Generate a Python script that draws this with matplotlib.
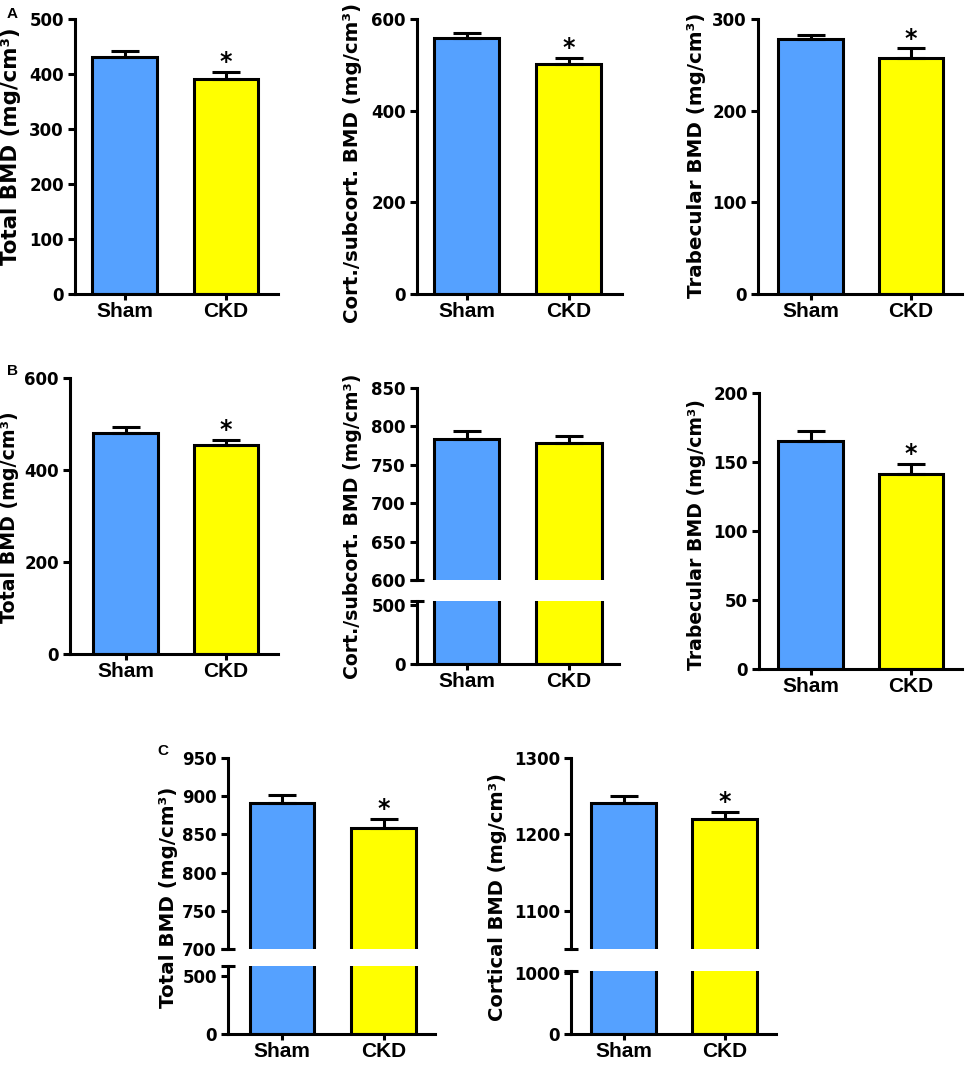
import matplotlib
matplotlib.use('Agg')
import matplotlib.pyplot as plt

# ---------------- data ----------------
categories = ['Sham', 'CKD']

A_total_mean = [431, 391]
A_total_err = [10, 13]
A_cort_mean = [559, 501]
A_cort_err = [10, 15]
A_trab_mean = [278, 258]
A_trab_err = [5, 10]

B_total_mean = [480, 454]
B_total_err = [13, 11]
B_cort_mean = [784, 779]
B_cort_err = [10, 8.5]
B_trab_mean = [165, 141.5]
B_trab_err = [7.5, 7]

C_total_mean = [891, 859]
C_total_err = [10, 11]
C_cort_mean = [1241, 1220]
C_cort_err = [9, 9]

sig_default = [False, True]
sig_none = [False, False]

lab_total = 'Total BMD (mg/cm³)'
lab_cort = 'Cort./subcort. BMD (mg/cm³)'
lab_trab = 'Trabecular BMD (mg/cm³)'
lab_cortical = 'Cortical BMD (mg/cm³)'

# ---------------- style ----------------
W, H = 965, 1065
fig = plt.figure(figsize=(W / 100, H / 100), dpi=100)

BLUE = '#55A1FF'
YELLOW = '#FFFF00'
LW = 2.2
YFONT = 'DejaVu Sans'
XFONT = 'Liberation Sans'
BAR_W = 0.64


def px_ax(l, r, t, b):
    return fig.add_axes([l / W, 1 - b / H, (r - l) / W, (b - t) / H])


def base_style(ax, show_x=True):
    ax.set_facecolor('none')
    for s in ['top', 'right']:
        ax.spines[s].set_visible(False)
    ax.spines['left'].set_linewidth(LW)
    ax.spines['bottom'].set_linewidth(LW)
    ax.tick_params(axis='y', length=5, width=LW, pad=3, colors='black')
    ax.tick_params(axis='x', length=4.5, width=LW, pad=1.5)
    if show_x:
        ax.set_xticks(range(len(categories)))
        ax.set_xticklabels(categories, fontfamily=XFONT, fontweight='bold', fontsize=15)
    else:
        ax.spines['bottom'].set_visible(False)
        ax.tick_params(axis='x', bottom=False, labelbottom=False)


def set_yt(ax, ticks):
    ax.set_yticks(ticks)
    ax.set_yticklabels([str(t) for t in ticks], fontfamily=YFONT, fontweight='bold', fontsize=12)


def draw_bars(ax, means, errs):
    x = list(range(len(means)))
    ax.bar(x, means, width=BAR_W, color=[BLUE, YELLOW], edgecolor='black',
           linewidth=LW, zorder=2)
    ax.errorbar(x, means, yerr=[[0] * len(errs), errs], fmt='none', ecolor='black',
                elinewidth=LW, capsize=10.4, capthick=LW, zorder=3)


def stars(ax, means, errs, sig):
    for i, (m, e, s) in enumerate(zip(means, errs, sig)):
        if s:
            ax.annotate('*', xy=(i, m + e), xytext=(0, 2), textcoords='offset points',
                        ha='center', va='baseline', fontsize=17, fontweight='bold',
                        fontfamily=YFONT, annotation_clip=False)


def xlim_from(spine, right, c0, c1):
    s = c1 - c0
    return (-(c0 - spine) / s, 1 + (right - c1) / s)


def ylabel(ax, text, cx, cy, fs):
    ax.set_ylabel(text, fontfamily=YFONT, fontweight='bold', fontsize=fs)
    ax.yaxis.set_label_coords(cx / W, 1 - cy / H, transform=fig.transFigure)
    lab = ax.yaxis.label
    lab.set_va('center')
    lab.set_ha('center')
    lab.set_rotation_mode('default')


def break_mark(ax, y, width_px):
    d = 7 / width_px
    ax.plot([-d, d], [y, y], transform=ax.transAxes, color='black', lw=LW,
            clip_on=False, solid_capstyle='butt')


def simple_panel(l, r, t, b, c0, c1, means, errs, ylim, ticks, label, lx, ly, fs, sig):
    ax = px_ax(l, r, t, b)
    draw_bars(ax, means, errs)
    ax.set_xlim(xlim_from(l, r, c0, c1))
    ax.set_ylim(ylim)
    base_style(ax)
    set_yt(ax, ticks)
    stars(ax, means, errs, sig)
    ylabel(ax, label, lx, ly, fs)
    return ax


def broken_panel(l, r, t_top, b_top, t_bot, b_bot, c0, c1, means, errs,
                 ylim_top, ticks_top, ylim_bot, ticks_bot, label, lx, ly, fs, sig):
    xl = xlim_from(l, r, c0, c1)
    axt = px_ax(l, r, t_top, b_top)
    draw_bars(axt, means, errs)
    axt.set_xlim(xl)
    axt.set_ylim(ylim_top)
    base_style(axt, show_x=False)
    set_yt(axt, ticks_top)
    stars(axt, means, errs, sig)

    axb = px_ax(l, r, t_bot, b_bot)
    draw_bars(axb, means, errs)
    axb.set_xlim(xl)
    axb.set_ylim(ylim_bot)
    base_style(axb)
    set_yt(axb, ticks_bot)

    break_mark(axt, 0, r - l)
    break_mark(axb, 1, r - l)
    ylabel(axb, label, lx, ly, fs)
    return axt, axb


# ---------------- row A ----------------
simple_panel(75, 278, 19, 294, 124.5, 226, A_total_mean, A_total_err,
             (0, 500), [0, 100, 200, 300, 400, 500], lab_total, 11, 146, 15.4, sig_default)
simple_panel(417, 622, 19, 294, 466.5, 568.5, A_cort_mean, A_cort_err,
             (0, 600), [0, 200, 400, 600], lab_cort, 352, 163, 14.2, sig_default)
simple_panel(758, 962, 19, 294, 810.5, 911, A_trab_mean, A_trab_err,
             (0, 300), [0, 100, 200, 300], lab_trab, 697, 155, 14.3, sig_default)

# ---------------- row B ----------------
simple_panel(70, 278, 378, 654, 125.5, 226, B_total_mean, B_total_err,
             (0, 600), [0, 200, 400, 600], lab_total, 10, 517, 13.7, sig_default)
broken_panel(417, 619, 388, 580, 601, 664, 466.5, 569, B_cort_mean, B_cort_err,
             (600, 850), [600, 650, 700, 750, 800, 850], (0, 534), [0, 500],
             lab_cort, 352, 526, 13.6, sig_none)
simple_panel(759, 962, 393, 669, 810.5, 911, B_trab_mean, B_trab_err,
             (0, 200), [0, 50, 100, 150, 200], lab_trab, 697, 535, 13.6, sig_default)

# ---------------- row C ----------------
broken_panel(228, 435, 758, 949, 966, 1034, 282, 383.5, C_total_mean, C_total_err,
             (700, 950), [700, 750, 800, 850, 900, 950], (0, 586), [0, 500],
             lab_total, 168, 897, 14.3, sig_default)
broken_panel(571, 776, 758, 949, 971, 1034, 623.5, 724.5, C_cort_mean, C_cort_err,
             (1050, 1300), [1100, 1200, 1300], (0, 1033), [0, 1000],
             lab_cortical, 498, 897, 14.0, sig_default)

# ---------------- panel letters ----------------
for letter, x, y in [('A', 12, 18), ('B', 13, 375), ('C', 163, 755)]:
    fig.text(x / W, 1 - y / H, letter, ha='center', va='baseline',
             fontfamily=XFONT, fontweight='bold', fontsize=11)

fig.savefig('out.png', dpi=100)
